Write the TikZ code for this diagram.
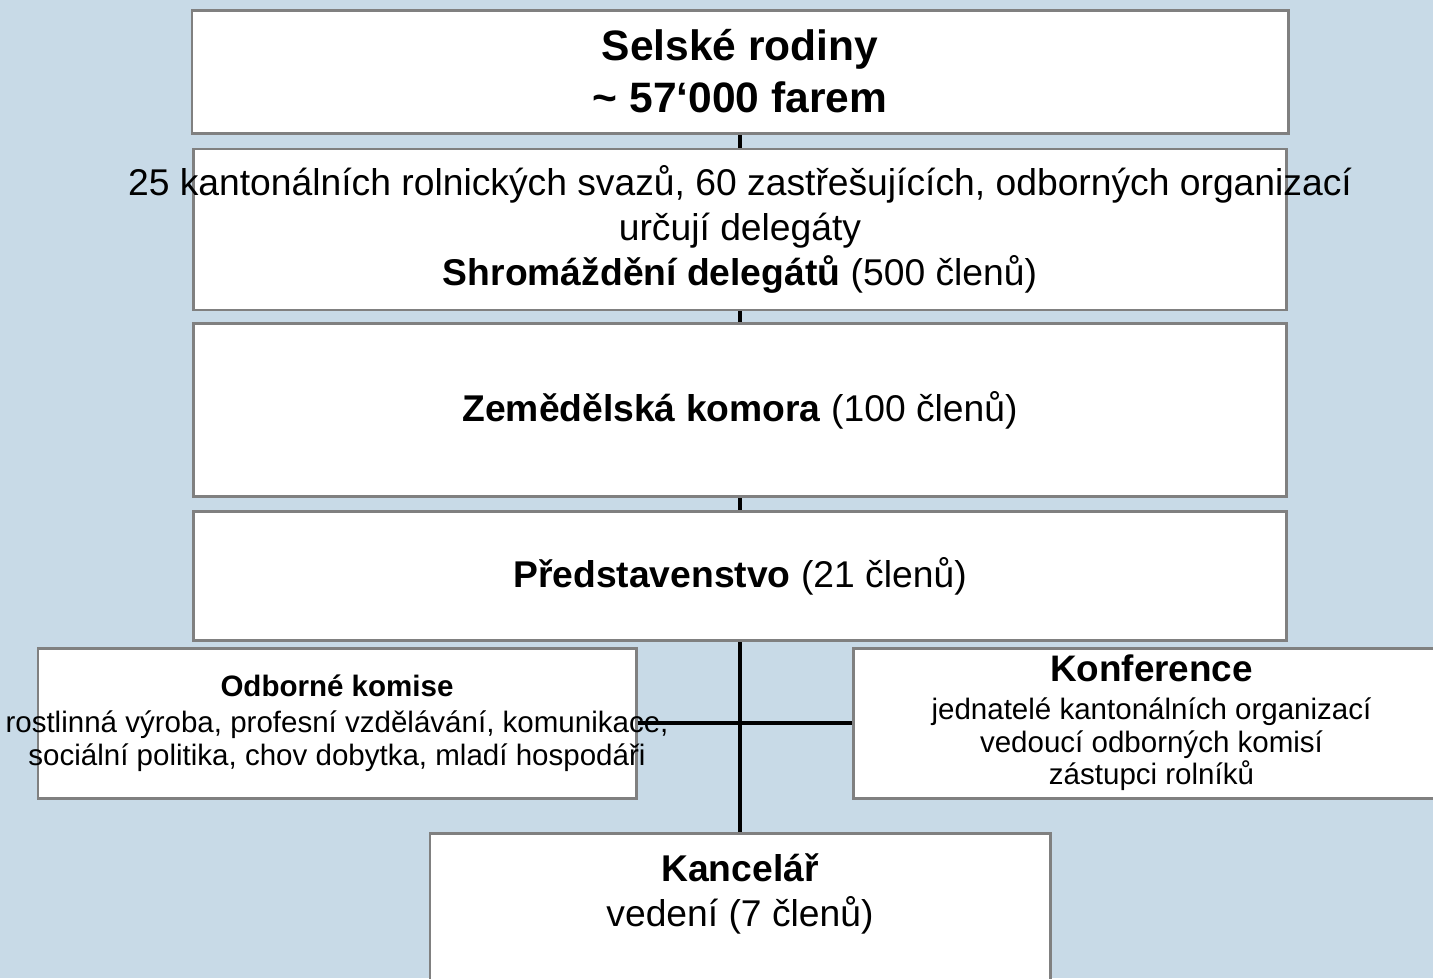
\documentclass[tikz,border=0pt]{standalone}
\usepackage{fontspec}
\setmainfont{Liberation Sans}
\usetikzlibrary{positioning,backgrounds}

\definecolor{paper}{RGB}{200,218,231}
\definecolor{frame}{RGB}{128,128,128}
% a line that may run past the edges of its box
\newcommand{\overrun}[1]{\makebox[0pt]{#1}}

\begin{document}
\begin{tikzpicture}[box/.style={rectangle, draw=frame, line width=1.7pt, fill=white, align=center, inner sep=0pt},
		big/.style={font=\fontsize{21.2}{25.5}\selectfont},
		small/.style={font=\fontsize{16.8}{18.6}\selectfont},
		conn/.style={line width=2.3pt}]
		\useasboundingbox (0,0) rectangle (28.66,-19.56);

		\node [box, minimum width=21.92cm, minimum height=2.46cm, font=\fontsize{24.2}{29.6}\selectfont\bfseries] (rodiny) at (14.8,-1.43) {Selské rodiny\\\textasciitilde{} 57‘000 farem};
		\node [box, big, minimum width=21.86cm, minimum height=3.22cm, below=0.26cm of rodiny] (delegati) {\overrun{25 kantonálních rolnických svazů, 60 zastřešujících, odborných organizací}\\určují delegáty\\\textbf{Shromáždění delegátů} (500 členů)};
		\node [box, big, minimum width=21.86cm, minimum height=3.46cm, below=0.22cm of delegati] (komora) {\textbf{Zemědělská komora} (100 členů)};
		\node [box, big, minimum width=21.86cm, minimum height=2.58cm, below=0.24cm of komora] (predstav) {\textbf{Představenstvo} (21 členů)};
		\node [box, small, minimum width=11.96cm, minimum height=3cm] (komise) at (6.74,-14.46) {{\fontsize{16.8}{19}\selectfont\bfseries Odborné komise}\\[2pt]\overrun{rostlinná výroba, profesní vzdělávání, komunikace,}\\\overrun{sociální politika, chov dobytka, mladí hospodáři}};
		\node [box, small, minimum width=11.94cm, minimum height=3cm] (konference) at (23.03,-14.46) {{\fontsize{21}{24}\selectfont\bfseries Konference}\\[3pt]jednatelé kantonálních organizací\\vedoucí odborných komisí\\zástupci rolníků};
		\node [box, big, minimum width=12.4cm, minimum height=3.36cm, below=3.8cm of predstav] (kancelar) {\textbf{Kancelář}\\vedení (7 členů)\\[6pt]};

		\begin{scope}[on background layer]
			\fill [paper] (0,0) rectangle (28.66,-19.56);
			\path[conn] (rodiny) edge (kancelar);
		\end{scope}
		\path[conn] (komise) edge (konference);
	\end{tikzpicture}
\end{document}
